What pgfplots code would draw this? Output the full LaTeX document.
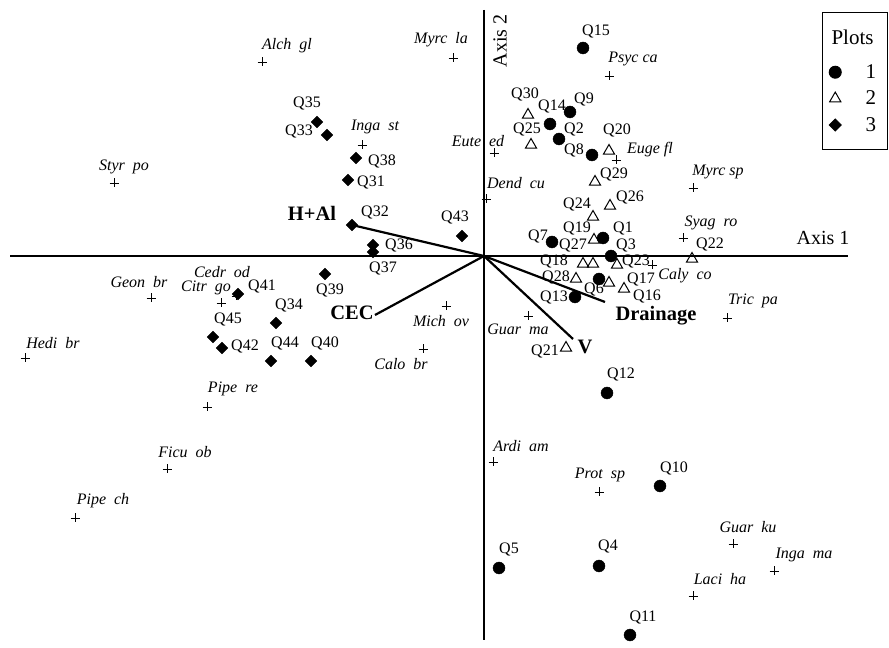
\documentclass[border=0pt]{standalone}
\usepackage{pgfplots}
\pgfplotsset{compat=1.18}
\usepackage{fontspec}
\setmainfont{Liberation Serif}
\newcommand\Qlab[3]{\node[inner sep=0pt,font=\fontsize{16bp}{16bp}\selectfont] at (axis cs:#1,#2) {#3};}
\newcommand\Slab[3]{\node[inner sep=0pt,font=\fontsize{16bp}{16bp}\selectfont\itshape] at (axis cs:#1,#2) {#3};}
\newcommand\Blab[3]{\node[inner sep=0pt,font=\fontsize{20.5bp}{20.5bp}\selectfont\bfseries] at (axis cs:#1,#2) {#3};}
\begin{document}
\begin{tikzpicture}
\begin{axis}[
  scale only axis, width=889bp, height=648bp,
  xmin=-484, xmax=405, ymin=-392, ymax=256,
  axis lines=none, clip=false,
  legend style={at={(axis cs:404,244)}, anchor=north east, draw=black, line width=1bp,
    fill=white, font=\fontsize{21bp}{21bp}\selectfont, inner xsep=4bp, inner ysep=15bp,
    row sep=7bp, cells={anchor=west}},
  legend image code/.code={\path (0cm,0cm) (1.28cm,0cm); \draw[#1] plot coordinates {(0.3cm,0cm)};},
]
% axes
\addplot[black, line width=2.2bp, forget plot] coordinates {(-474,0) (364,0)};
\addplot[black, line width=2.2bp, forget plot] coordinates {(0,246) (0,-384)};
% environmental vectors
\addplot[black, line width=2.2bp, forget plot] coordinates {(0,0) (-132,31)};
\addplot[black, line width=2.2bp, forget plot] coordinates {(0,0) (-109,-59)};
\addplot[black, line width=2.2bp, forget plot] coordinates {(0,0) (121,-46)};
\addplot[black, line width=2.2bp, forget plot] coordinates {(0,0) (89,-83)};
% species
\addplot[only marks, mark=+, mark size=4.5bp, line width=0.9bp, black, forget plot] coordinates {
(-222,194) (-31,198) (125,180) (-122,111) (-370,73) (10,103) (132,96) (2,57) (209,68)
(199,18) (168,-9) (243,-62) (-333,-42) (-248,-40) (-263,-47) (-38,-50) (44,-60) (-61,-93)
(-459,-102) (-277,-151) (-317,-213) (-409,-262) (9,-206) (115,-236) (249,-288) (290,-315) (209,-340)};
\addlegendimage{empty legend}
\addlegendentry{\hspace{-34bp}\raisebox{8bp}{Plots}}
% plot group 1
\addplot[only marks, mark=*, mark size=6bp, black] coordinates {
(99,208) (86,144) (66,132) (75,117) (108,101) (68,14) (119,18) (127,0) (115,-23)
(91,-41) (123,-137) (176,-230) (15,-312) (115,-310) (146,-379)};
\addlegendentry{\makebox[16bp][l]{1}}
% plot group 2
\addplot[only marks, mark=triangle, mark size=6.5bp, line width=1bp, black] coordinates {
(44,141) (47,111) (125,105) (111,74) (126,50) (109,39) (110,16) (99,-8) (109,-8)
(133,-9) (92,-23) (125,-27) (140,-33) (208,-3) (82,-92)};
\addlegendentry{\makebox[16bp][l]{2}}
% plot group 3
\addplot[only marks, mark=square*, mark size=4.2bp, mark options={rotate=45}, black] coordinates {
(-167,134) (-157,121) (-128,98) (-136,76) (-132,31) (-111,11) (-111,4) (-22,20) (-159,-18)
(-246,-38) (-208,-67) (-271,-81) (-262,-92) (-213,-105) (-173,-105)};
\addlegendentry{\makebox[16bp][l]{3}}
% labels group 1
\Qlab{112}{224}{Q15}\Qlab{100}{156}{Q9}\Qlab{68}{149}{Q14}\Qlab{90}{126}{Q2}\Qlab{90}{106}{Q8}
\Qlab{139}{27}{Q1}\Qlab{54}{19}{Q7}\Qlab{142}{10}{Q3}\Qlab{110}{-34}{Q6}\Qlab{70}{-42}{Q13}
\Qlab{137}{-119}{Q12}\Qlab{190}{-212}{Q10}\Qlab{25}{-294}{Q5}\Qlab{124}{-291}{Q4}\Qlab{159}{-361}{Q11}
% labels group 2
\Qlab{41}{162}{Q30}\Qlab{43}{126}{Q25}\Qlab{133}{126}{Q20}\Qlab{130}{81}{Q29}\Qlab{146}{58}{Q26}
\Qlab{93}{51}{Q24}\Qlab{93}{27}{Q19}\Qlab{89}{10}{Q27}\Qlab{70}{-5}{Q18}\Qlab{152}{-6}{Q23}
\Qlab{72}{-21}{Q28}\Qlab{157}{-24}{Q17}\Qlab{163}{-41}{Q16}\Qlab{226}{11}{Q22}\Qlab{61}{-96}{Q21}
% labels group 3
\Qlab{-177}{152}{Q35}\Qlab{-185}{124}{Q33}\Qlab{-102}{95}{Q38}\Qlab{-113}{73}{Q31}\Qlab{-109}{43}{Q32}
\Qlab{-85}{10}{Q36}\Qlab{-101}{-13}{Q37}\Qlab{-29}{38}{Q43}\Qlab{-154}{-35}{Q39}\Qlab{-159}{-87}{Q40}
\Qlab{-222}{-31}{Q41}\Qlab{-195}{-50}{Q34}\Qlab{-256}{-64}{Q45}\Qlab{-239}{-91}{Q42}\Qlab{-199}{-88}{Q44}
% species labels
\Slab{-197}{210}{Alch\ \ gl}\Slab{-43}{216}{Myrc\ \ la}\Slab{149}{197}{Psyc ca}\Slab{-109}{129}{Inga\ \ st}
\Slab{-360}{89}{Styr\ \ po}\Slab{-6}{115}{Eute\ \ ed}\Slab{166}{106}{Euge fl}\Slab{32}{73}{Dend\ \ cu}
\Slab{234}{84}{Myrc sp}\Slab{227}{33}{Syag\ \ ro}\Slab{201}{-20}{Caly\ \ co}\Slab{269}{-45}{Tric\ \ pa}
\Slab{-345}{-26}{Geon\ \ br}\Slab{-262}{-16}{Cedr\ \ od}\Slab{-278}{-32}{Citr\ \ go}\Slab{-43}{-65}{Mich\ \ ov}
\Slab{34}{-73}{Guar\ \ ma}\Slab{-83}{-108}{Calo\ \ br}\Slab{-431}{-87}{Hedi\ \ br}\Slab{-251}{-133}{Pipe\ \ re}
\Slab{-299}{-196}{Ficu\ \ ob}\Slab{-381}{-245}{Pipe\ \ ch}\Slab{37}{-190}{Ardi\ \ am}\Slab{116}{-219}{Prot\ \ sp}
\Slab{264}{-271}{Guar\ \ ku}\Slab{320}{-299}{Inga\ \ ma}\Slab{236}{-323}{Laci\ \ ha}
% vector labels
\Blab{-172}{43}{H+Al}\Blab{-132}{-57}{CEC}\Blab{172}{-60}{Drainage}\Blab{101}{-91}{V}
% axis labels
\node[inner sep=0pt,font=\fontsize{20bp}{20bp}\selectfont] at (axis cs:339,18) {Axis 1};
\node[inner sep=0pt,font=\fontsize{20bp}{20bp}\selectfont,rotate=90] at (axis cs:16,215) {Axis 2};
\end{axis}
\pgfresetboundingbox
\path[use as bounding box] (current axis.south west) rectangle (current axis.north east);
\end{tikzpicture}
\end{document}
